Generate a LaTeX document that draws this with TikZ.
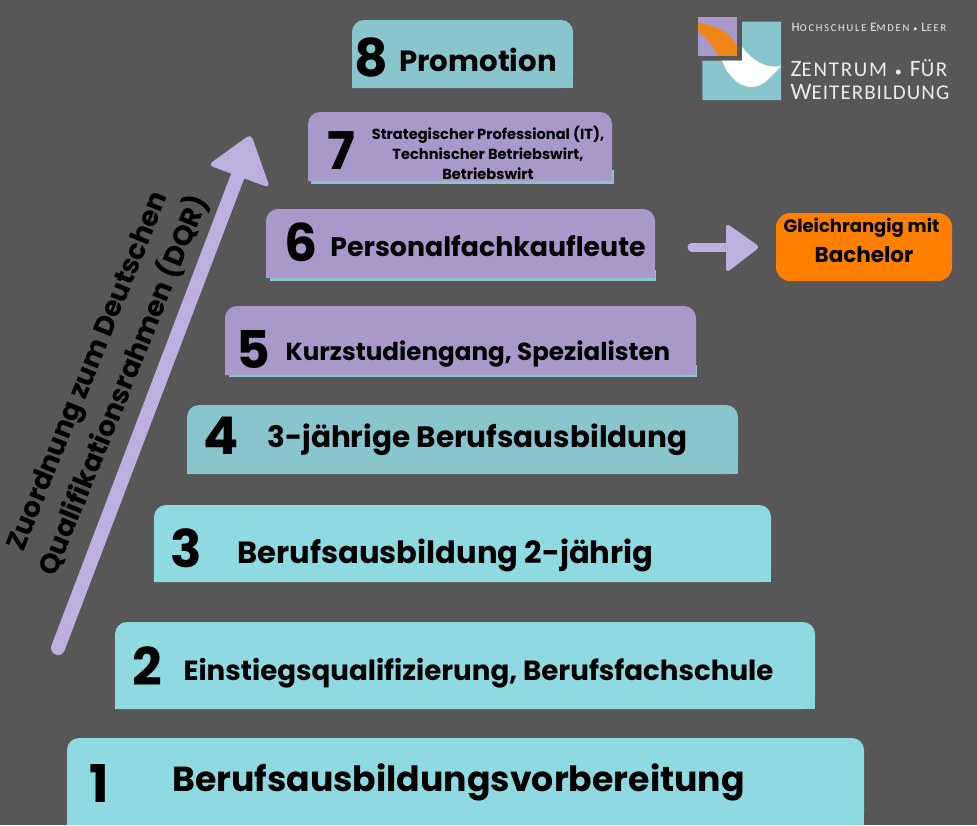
\documentclass[tikz,border=0pt]{standalone}
\usepackage{fontspec}
\setmainfont{Poppins}[BoldFont=* Bold]
\newfontfamily\logofont{Carlito}
\definecolor{bg}{HTML}{575757}
\definecolor{cyanbox}{HTML}{8FD9E1}
\definecolor{tealbox}{HTML}{88C5CC}
\definecolor{lilabox}{HTML}{A998CA}
\definecolor{lilaarrow}{HTML}{BDB0DE}
\definecolor{orangebox}{HTML}{FF8000}
\definecolor{logoorange}{HTML}{F28518}
\newcommand{\fsz}[1]{\fontsize{#1}{#1}\selectfont\bfseries}
\newcommand{\fszl}[2]{\fontsize{#1}{#2}\selectfont\bfseries}
\newcommand{\kapit}[4]{{\fontsize{#1}{#1}\selectfont #3}{\fontsize{#2}{#2}\selectfont #4}}
\newcommand{\stufe}[6]{% name, x1,y1,x2,y2, colour
  \fill[#6,rounded corners=12] (#2,#5) -- (#2,#3) -- (#4,#3) -- (#4,#5) [sharp corners] -- cycle;
  \fill[#6] (#2,#5-14) rectangle (#4,#5);
  \node[boxanchor,minimum width=#4-#2,minimum height=#5-#3] (#1) at ({(#2+#4)/2},{(#3+#5)/2}) {};
}
\tikzset{
  x=1pt,y=-1pt,
  boxanchor/.style={inner sep=0pt,outer sep=0pt},
  num/.style={inner sep=0pt,text=black,font=\fsz{52}},
  lab/.style={inner sep=0pt,text=black,align=center},
  logotext/.style={inner sep=0pt,text=white!92!black,anchor=base west,align=left},
}
\begin{document}
\begin{tikzpicture}
\useasboundingbox (0,0) rectangle (977,825);
\fill[bg] (0,0) rectangle (977,825);

% teal under-strips
\fill[tealbox] (311,170) rectangle (614,184);
\fill[tealbox] (270,270) rectangle (656,281);
\fill[tealbox] (229,365) rectangle (697,377);

\stufe{s8}{352}{20}{573}{88}{tealbox}
\stufe{s7}{308}{112}{612}{181}{lilabox}
\stufe{s6}{266}{209}{655}{278}{lilabox}
\stufe{s5}{225}{306}{696}{375}{lilabox}
\stufe{s4}{187}{405}{738}{474}{tealbox}
\stufe{s3}{154}{505}{771}{582}{cyanbox}
\stufe{s2}{115}{622}{815}{709}{cyanbox}
\stufe{s1}{67}{738}{864}{825}{cyanbox}

\node[num] (n8) at (371,57) {8};
\node[num] (n7) at (341,151) {7};
\node[num] (n6) at (301,242) {6};
\node[num] (n5) at (253,349) {5};
\node[num] (n4) at (221,436) {4};
\node[num] (n3) at (186,548) {3};
\node[num] (n2) at (147,666) {2};
\node[num] (n1) at (99,784) {1};

\node[lab,font=\fsz{29.2}] (t8) at (478,60) {Promotion};
\node[lab,font=\fszl{14.6}{20}] (t7) at (488,153) {Strategischer Professional (IT),\\Technischer Betriebswirt,\\Betriebswirt};
\node[lab,font=\fsz{26.8}] (t6) at (488,246) {Personalfachkaufleute};
\node[lab,font=\fsz{24.6}] (t5) at (478,354) {Kurzstudiengang, Spezialisten};
\node[lab,font=\fsz{29.5}] (t4) at (477.5,440) {3-jährige Berufsausbildung};
\node[lab,font=\fsz{30.6}] (t3) at (445.5,555) {Berufsausbildung 2-jährig};
\node[lab,font=\fsz{27.7}] (t2) at (478.5,673) {Einstiegsqualifizierung, Berufsfachschule};
\node[lab,font=\fsz{34.7}] (t1) at (458.5,782) {Berufsausbildungsvorbereitung};

% orange box
\node[fill=orangebox,rounded corners=14,minimum width=176,minimum height=68,inner sep=0pt] (gl) at (864,247) {};
\node[lab,font=\fsz{18}] (g1) at (861.5,228) {Gleichrangig mit};
\node[lab,font=\fsz{21.5}] (g2) at (864,255) {Bachelor};

% connector 6 -> orange
\coordinate (a6) at (s6.east |- 0,247);
\draw[lilaarrow,line width=9,line cap=round,shorten <=37,shorten >=46] (a6) -- (gl.west |- a6);
\fill[lilaarrow,rounded corners=4] (726,223) -- (760,247) -- (726,273) -- cycle;

% DQR arrow
\coordinate (ua) at (58,648);
\coordinate (ub) at (240,170);
\draw[lilaarrow,line width=14,line cap=round] (ua) -- (ub);
\fill[lilaarrow,rounded corners=5] (251,134) -- (270,188) -- (208,165) -- cycle;
\node[lab,rotate=68,font=\fszl{27.6}{39}] (dqr) at (107,379) {Zuordnung zum Deutschen\\Qualifikationsrahmen (DQR)};

% logo
\fill[tealbox] (742,21.7) -- (781,21.7) -- (781,100) -- (702.3,100) -- (702.3,60.7) -- (742,60.7) -- cycle;
\fill[white] (742,46.7) .. controls (752,60) and (765,69) .. (781,66) .. controls (770,78) and (762,88) .. (750,87) .. controls (738,86) and (728,76) .. (722,60.7) -- (742,60.7) -- cycle;
\fill[lilabox] (698,16.7) rectangle (737,55.7);
\fill[logoorange] (698,22.5) .. controls (715,26) and (729,30) .. (737,46.7) -- (737,55.7) -- (717.7,55.7) .. controls (712,44) and (705,36) .. (698,31.7) -- cycle;
\node[logotext,font=\logofont\addfontfeature{LetterSpace=17}] (l1) at (791.5,31.7) {\kapit{13}{10.5}{H}{OCHSCHULE} \kapit{13}{10.5}{E}{MDEN} {\fontsize{8}{8}\selectfont •} \kapit{13}{10.5}{L}{EER}};
\node[logotext,font=\logofont\addfontfeature{LetterSpace=8}] (l2) at (790.5,76.7) {\kapit{23.5}{21}{Z}{ENTRUM}\hspace{8pt}{\fontsize{14}{14}\selectfont •}\hspace{8pt}\kapit{23.5}{21}{F}{ÜR}};
\node[logotext,font=\logofont\addfontfeature{LetterSpace=5}] (l3) at (790.5,99.5) {\kapit{23.5}{21}{W}{EITERBILDUNG}};
\end{tikzpicture}
\end{document}
